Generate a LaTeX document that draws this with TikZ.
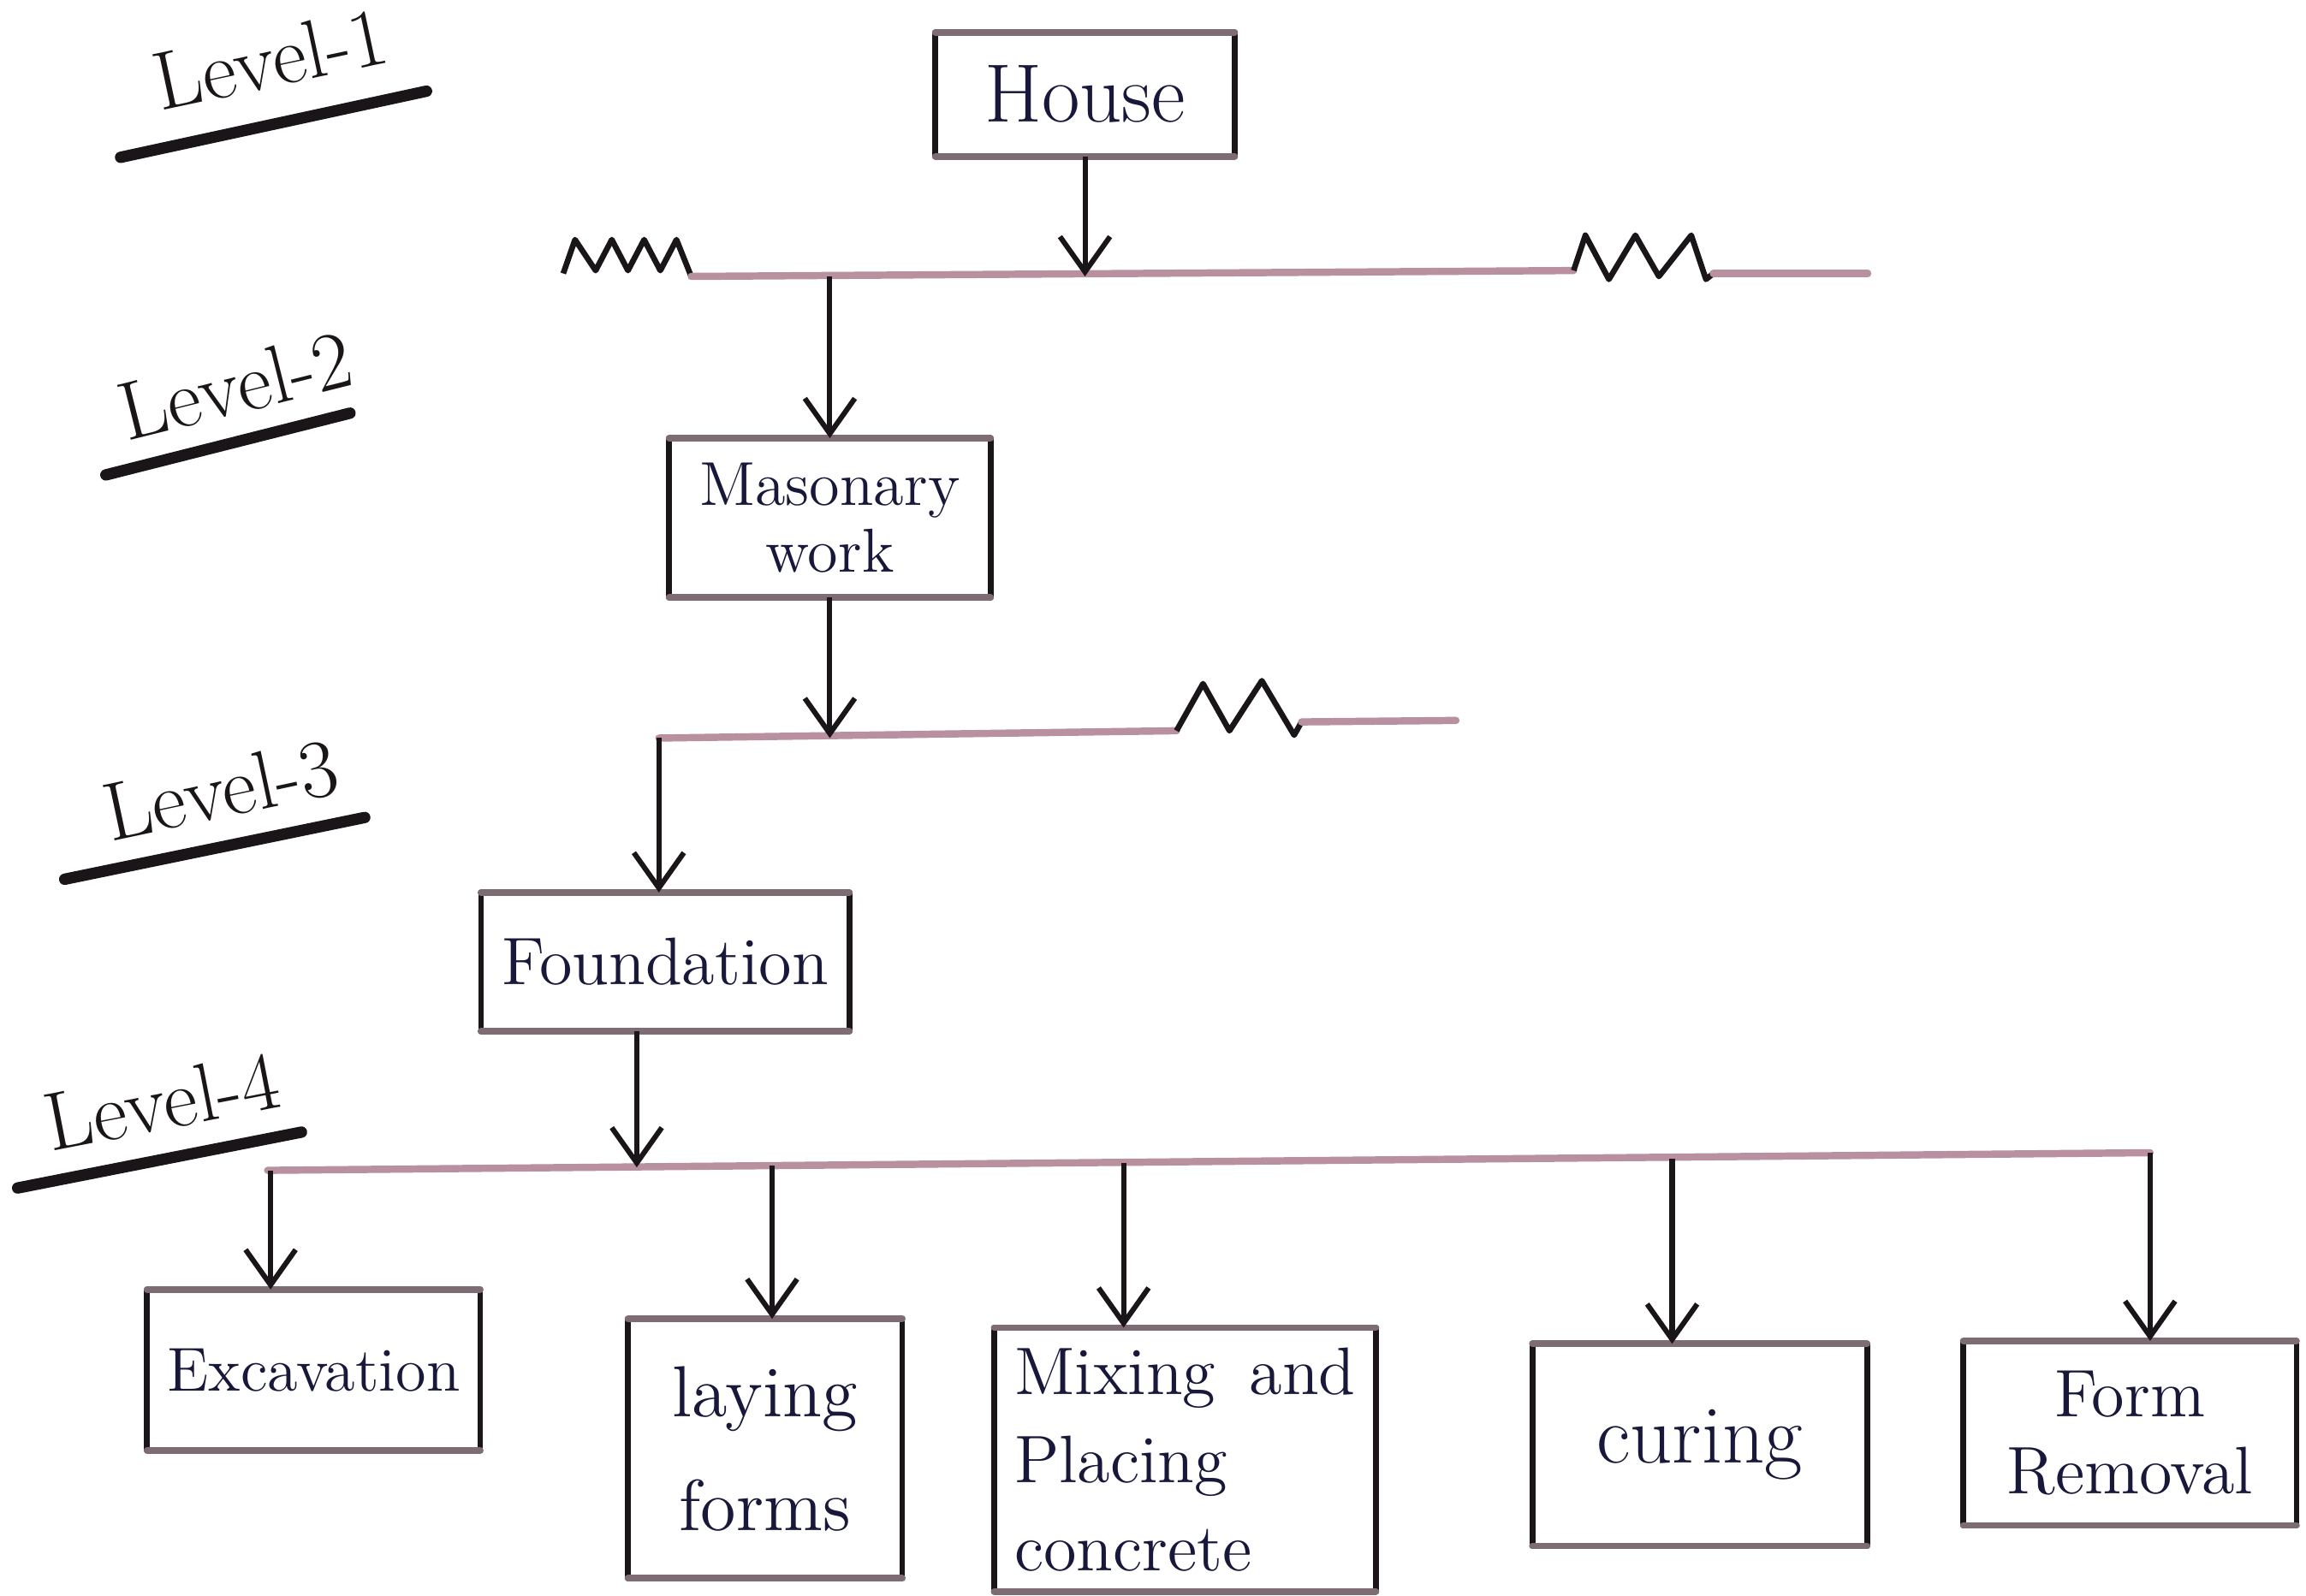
\documentclass[tikz,border=0pt]{standalone}
\usetikzlibrary{arrows.meta}

\definecolor{ink}{HTML}{1A1519}
\definecolor{pen}{HTML}{18183A}
\definecolor{faint}{HTML}{B890A0}
\definecolor{lidgray}{HTML}{7E6C74}

\tikzset{
  box/.style={anchor=north west, inner sep=3pt, text=pen, align=center,
              font=\fontsize{13}{15}\selectfont},
  side/.style={draw=ink, line width=1.1pt, line cap=round},
  lid/.style={draw=lidgray, line width=1.3pt, line cap=round},
  bus/.style={draw=faint, line width=1.4pt, line cap=round},
  zig/.style={draw=ink, line width=1.1pt, line join=round},
  arr/.style={draw=ink, line width=1pt, -{Straight Barb[length=2.4mm,width=3.4mm]}},
  lvl/.style={text=ink, font=\fontsize{16}{18}\selectfont},
  uline/.style={draw=ink, line width=2.2pt, line cap=round},
}

% dark left/right sides, greyer top/bottom edges of a box node
\newcommand\inkbox[1]{%
  \draw[side] (#1.north west) -- (#1.south west) (#1.north east) -- (#1.south east);
  \draw[lid] (#1.north west) -- (#1.north east) (#1.south west) -- (#1.south east);}

\begin{document}
\begin{tikzpicture}[x=0.01cm,y=-0.01cm]
\useasboundingbox[fill=white] (0,0) rectangle (1568,1085);

% level labels with their underlines
\node[lvl, rotate=12] (lv1) at (184,40) {Level-1};
\draw[uline] (82,107) -- (290,62);
\node[lvl, rotate=14] (lv2) at (160,262) {Level-2};
\draw[uline] (72,323) -- (238,281);
\node[lvl, rotate=12] (lv3) at (150,537) {Level-3};
\draw[uline] (44,598) -- (248,556);
\node[lvl, rotate=11] (lv4) at (110,749) {Level-4};
\draw[uline] (12,808) -- (205,770);

% work packages
\node[box, minimum width=2.02cm, minimum height=0.83cm,
      font=\fontsize{16}{18}\selectfont] (house) at (636,22) {House};
\node[box, minimum width=2.17cm, minimum height=1.07cm,
      font=\fontsize{12}{13}\selectfont] (mason) at (455,298) {Masonary\\work};
\node[box, minimum width=2.49cm, minimum height=0.93cm] (found) at (327,607) {Foundation};
\node[box, minimum width=2.25cm, minimum height=1.08cm,
      font=\fontsize{12}{14}\selectfont] (excav) at (100,877) {Excavation};
\node[box, minimum width=1.85cm, minimum height=1.75cm,
      font=\fontsize{14}{22}\selectfont] (laying) at (427,897) {laying\\forms};
\node[box, minimum width=2.58cm, minimum height=1.78cm, align=left,
      font=\fontsize{13}{17}\selectfont] (mixing) at (676,903) {Mixing\enspace and\\Placing\\concrete};
\node[box, minimum width=2.26cm, minimum height=1.36cm,
      font=\fontsize{16}{18}\selectfont] (curing) at (1042,914) {curing};
\node[box, minimum width=2.25cm, minimum height=1.24cm,
      font=\fontsize{13}{15}\selectfont] (formrem) at (1335,912) {Form\\Removal};

\foreach \n in {house,mason,found,excav,laying,mixing,curing,formrem} {\inkbox{\n}}

% level-1 bus with its break marks
\coordinate (b1a) at (470,188);
\coordinate (b1b) at (1070,184);
\coordinate (b1c) at (1165,186);
\coordinate (b1d) at (1270,186);
\draw[zig] (383,186) -- (391,163) -- (405,184) -- (416,163) -- (427,184)
           -- (438,163) -- (449,184) -- (460,163) -- (b1a);
\draw[bus] (b1a) -- (b1b);
\draw[zig] (b1b) -- (1078,160) -- (1094,190) -- (1112,160) -- (1128,188)
           -- (1150,160) -- (1160,190) -- (b1c);
\draw[bus] (b1c) -- (b1d);
\draw[arr] (house.south) -- (house.south |- b1a);
\draw[arr] (mason.north |- b1a) -- (mason.north);

% level-2 bus
\coordinate (b2a) at (448,502);
\coordinate (b2b) at (800,497);
\coordinate (b2c) at (885,491);
\coordinate (b2d) at (990,490);
\draw[bus] (b2a) -- (b2b);
\draw[zig] (b2b) -- (818,465) -- (836,497) -- (858,463) -- (880,500) -- (b2c);
\draw[bus] (b2c) -- (b2d);
\draw[arr] (mason.south) -- (mason.south |- b2a);
\draw[arr] (b2a) -- (b2a |- found.north);

% level-4 bus and its branches
\coordinate (b3a) at (182,796);
\coordinate (b3b) at (1462,784);
\coordinate (b3j) at (433,794);
\draw[bus] (b3a) -- (b3b);
\draw[arr] (found.south -| b3j) -- (b3j);
\coordinate (d1) at (184,796);
\coordinate (d2) at (525,793);
\coordinate (d3) at (764,791);
\coordinate (d4) at (1137,788);
\coordinate (d5) at (1462,784);
\draw[arr] (d1) -- (d1 |- excav.north);
\draw[arr] (d2) -- (d2 |- laying.north);
\draw[arr] (d3) -- (d3 |- mixing.north);
\draw[arr] (d4) -- (d4 |- curing.north);
\draw[arr] (d5) -- (d5 |- formrem.north);
\end{tikzpicture}
\end{document}
